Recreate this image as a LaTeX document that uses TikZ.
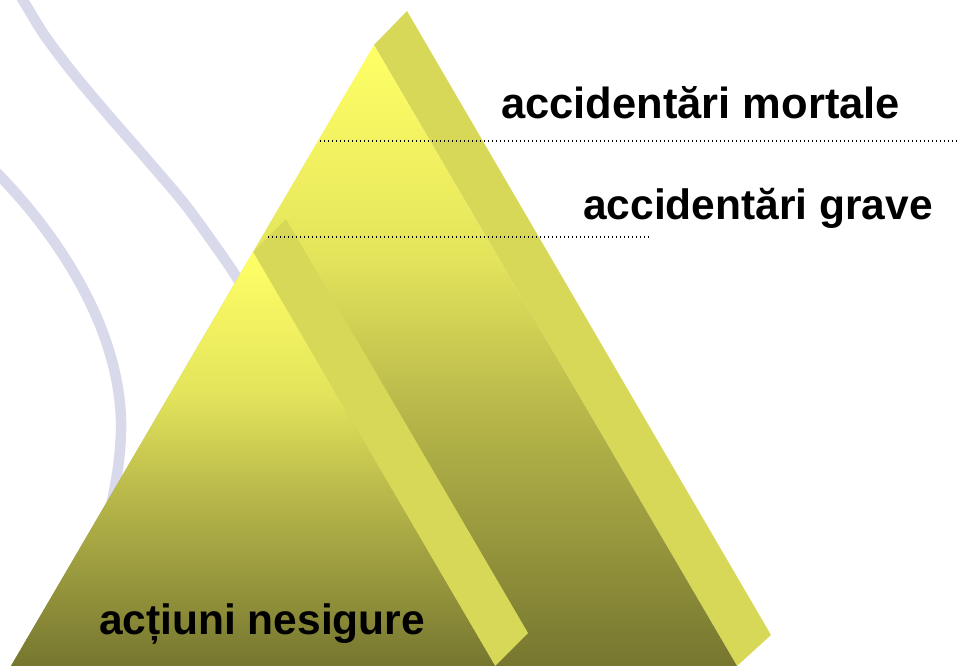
\documentclass[tikz,border=0pt]{standalone}
\usepackage{fontspec}
\setmainfont{Liberation Sans}
\definecolor{sideface}{RGB}{216,216,88}
\definecolor{curvecol}{RGB}{217,217,236}
\definecolor{pyrtop}{RGB}{255,255,102}
\definecolor{pyrmidA}{RGB}{228,228,92}
\definecolor{pyrmidB}{RGB}{185,185,75}
\definecolor{pyrbot}{RGB}{118,118,48}
\pgfdeclareverticalshading{pyrshade}{100bp}{color(0bp)=(pyrbot); color(25bp)=(pyrbot); color(46bp)=(pyrmidB); color(58bp)=(pyrmidA); color(75bp)=(pyrtop); color(100bp)=(pyrtop)}
\begin{document}
\begin{tikzpicture}[x=1pt,y=-1pt,
  lbl/.style={font=\bfseries\fontsize{42.5}{50}\selectfont, anchor=base west, inner sep=0pt, text=black},
  dotline/.style={line width=1.2pt, dash pattern=on 1.3pt off 2.7pt},
  bgarc/.style={draw=curvecol, line width=10.5pt},
  sidestrip/.style={fill=sideface},
  frontface/.style={shading=pyrshade}]
\useasboundingbox (0,0) rectangle (958,666);
\fill[white] (0,0) rectangle (958,666);
% background curves
\draw[bgarc] plot[smooth] coordinates {(16,-12) (43,33) (73,73) (110,117) (150,163) (187,207) (230,267) (250,300)};
\draw[bgarc] (-10,166) .. controls (50,225) and (118,320) .. (121,420) .. controls (122,460) and (112,510) .. (100,545);
% big pyramid
\fill[sidestrip] (374,45) -- (407,11) -- (771,635) -- (737,666) -- cycle;
\shade[frontface] (374,45) -- (11,666) -- (737,666) -- cycle;
% small pyramid
\fill[sidestrip] (253,252) -- (286,219) -- (528,633) -- (495,666) -- cycle;
\shade[frontface] (253,252) -- (11,666) -- (495,666) -- cycle;
% dotted lines
\draw[dotline] (320,141) -- (958,141);
\draw[dotline] (268,237) -- (651,237);
% labels
\node[lbl, font=\bfseries\fontsize{43.5}{50}\selectfont] (mort) at (501,119) {accidentări mortale};
\node[lbl] (grave) at (583,219) {accidentări grave};
\node[lbl] (nesig) at (99,634) {acțiuni nesigure};
\end{tikzpicture}
\end{document}
